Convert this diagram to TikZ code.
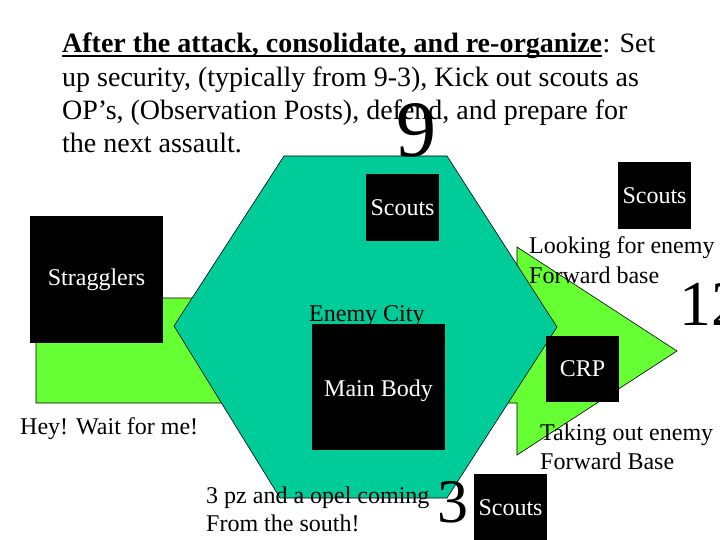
\documentclass[tikz,border=0pt]{standalone}
\usepackage{fontspec}
\setmainfont{Liberation Serif}
\definecolor{citygreen}{RGB}{0,204,153}
\definecolor{arrowgreen}{RGB}{102,255,51}
\begin{document}
\begin{tikzpicture}[x=1pt,y=-1pt,
  lbl/.style={font=\fontsize{24}{29}\selectfont, inner sep=0pt, anchor=base west},
  ttl/.style={font=\fontsize{28}{34}\selectfont, inner sep=0pt, anchor=base west},
  blk/.style={fill=black, draw=none, inner sep=0pt, text=white, font=\fontsize{24}{29}\selectfont},
  big/.style={inner sep=0pt, anchor=base west},
  shapeline/.style={draw=black, line width=0.6pt}]
\useasboundingbox (0,0) rectangle (720,540);
\fill[white] (0,0) rectangle (720,540);
% green arrow
\filldraw[fill=arrowgreen, shapeline] (36,298) -- (517,298) -- (517,247) -- (677,351) -- (517,455) -- (517,403) -- (36,403) -- cycle;
% enemy city hexagon
\filldraw[fill=citygreen, shapeline] (284,156) -- (447,156) -- (557,327) -- (447,498) -- (280,498) -- (174,326) -- cycle;
% title
\node[ttl] (u1) at (62,53) {\textbf{After the attack, consolidate, and re-organize}};
\node[ttl] (t1) at (u1.base east) {: Set};
\draw[line width=1.6pt] ([yshift=-3pt]u1.base west) -- ([yshift=-3pt]u1.base east);
\node[ttl] (t2) at (62,87) {up security, (typically from 9-3), Kick out scouts as};
\node[ttl] (t3) at (62,120) {OP’s, (Observation Posts), defend, and prepare for};
\node[ttl] (t4) at (62,153) {the next assault.};
% black boxes
\node[blk, minimum width=133pt, minimum height=127pt] (strag) at (96.5,279.5) {Stragglers};
\node[blk, minimum width=73pt, minimum height=67pt] (scoutsA) at (402.5,207.5) {Scouts};
\node[blk, minimum width=73pt, minimum height=67pt] (scoutsB) at (654.5,195.5) {Scouts};
\node[blk, minimum width=133pt, minimum height=126pt] (main) at (378.5,387) {};
\node[font=\fontsize{24}{29}\selectfont, text=white, inner sep=0pt, anchor=base] (mainlbl) at (378.5,396) {Main Body};
\node[blk, minimum width=73pt, minimum height=66pt] (crp) at (582.5,369) {CRP};
\node[blk, minimum width=73pt, minimum height=67pt] (scoutsC) at (510.5,507.5) {Scouts};
% labels
\node[lbl] (city) at (309,321) {Enemy City};
\node[lbl] (hey) at (20,434) {Hey! Wait for me!};
\node[lbl] (look1) at (529,254) {Looking for enemy};
\node[lbl] (look2) at (529,283) {Forward base};
\node[lbl] (take1) at (540,440) {Taking out enemy};
\node[lbl] (take2) at (540,469) {Forward Base};
\node[lbl] (pz1) at (206,503) {3 pz and a opel coming};
\node[lbl] (pz2) at (206,531) {From the south!};
% clock numbers
\node[big, font=\fontsize{80}{80}\selectfont] (n9) at (396,157) {9};
\node[big, font=\fontsize{64}{64}\selectfont] (n12) at (679,325) {12};
\node[big, font=\fontsize{62}{62}\selectfont] (n3) at (437,522) {3};
\end{tikzpicture}
\end{document}
